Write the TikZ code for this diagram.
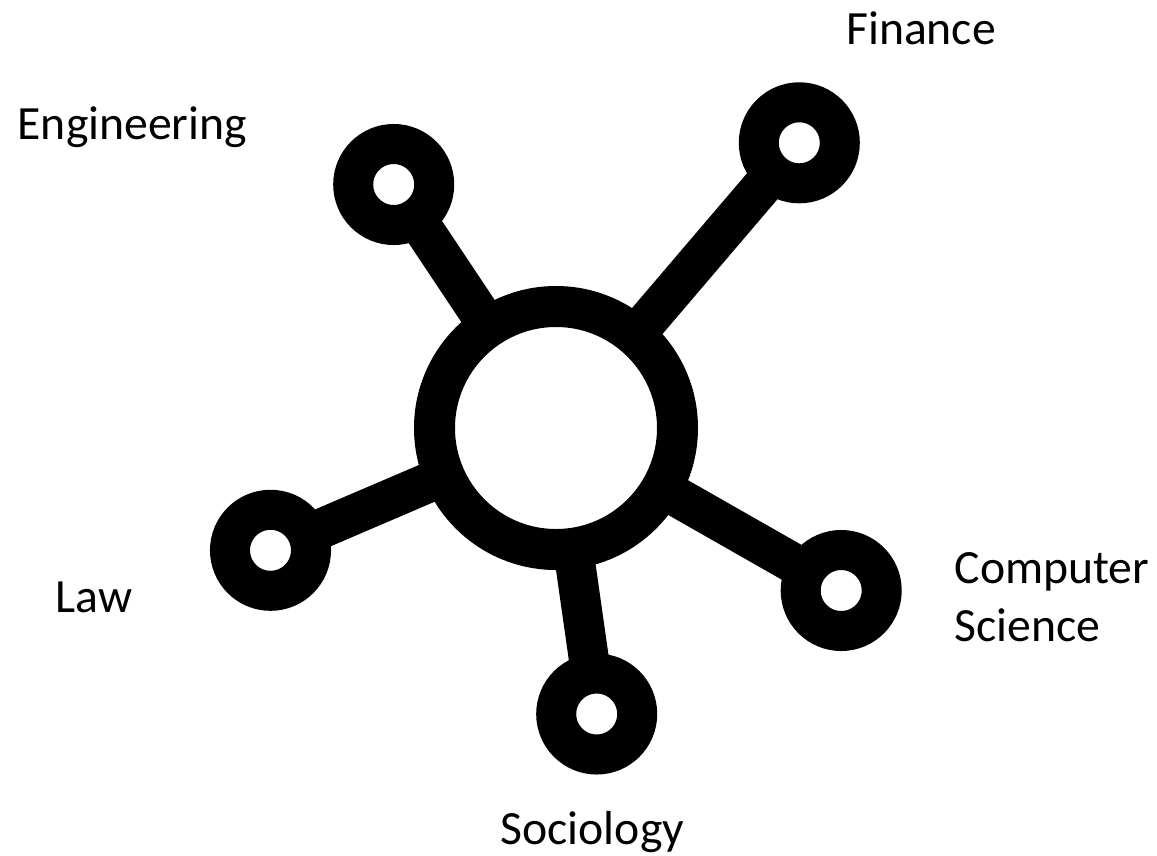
\documentclass[tikz,border=0pt]{standalone}
\usepackage{fontspec}
\setmainfont{Carlito}
\usetikzlibrary{backgrounds}
\tikzset{
  hubnode/.style={circle,draw=black,fill=white,line width=41pt,minimum size=243pt,inner sep=0pt,outer sep=0pt},
  leafnode/.style={circle,draw=black,fill=white,line width=40pt,minimum size=81pt,inner sep=0pt,outer sep=0pt},
  link/.style={draw=black,line width=40pt},
  lbl/.style={font=\fontsize{47.7pt}{56pt}\selectfont,text=black,inner sep=0pt,anchor=base west,align=left}
}
\begin{document}
\begin{tikzpicture}[x=1pt,y=-1pt]
\useasboundingbox (0,0) rectangle (1157,855);
\node[hubnode] (hub) at (556,428) {};
\node[leafnode] (eng) at (393.7,184.5) {};
\node[leafnode] (fin) at (799.3,142.8) {};
\node[leafnode] (law) at (270.5,550.3) {};
\node[leafnode] (cs) at (841.2,590.5) {};
\node[leafnode] (soc) at (596.7,714) {};
\begin{scope}[on background layer]
\draw[link] (hub.center) -- (eng.center);
\draw[link] (hub.center) -- (fin.center);
\draw[link] (hub.center) -- (law.center);
\draw[link] (hub.center) -- (cs.center);
\draw[link] (hub.center) -- (soc.center);
\end{scope}
\node[lbl] (tfin) at (846,44) {Finance};
\node[lbl] (teng) at (17.5,139.5) {Engineering};
\node[lbl] (tlaw) at (55.5,612) {Law};
\node[lbl] (tcs1) at (954.5,583.5) {Computer};
\node[lbl] (tcs2) at (954.5,641) {Science};
\node[lbl] (tsoc) at (500.5,844) {Sociology};
\end{tikzpicture}
\end{document}
